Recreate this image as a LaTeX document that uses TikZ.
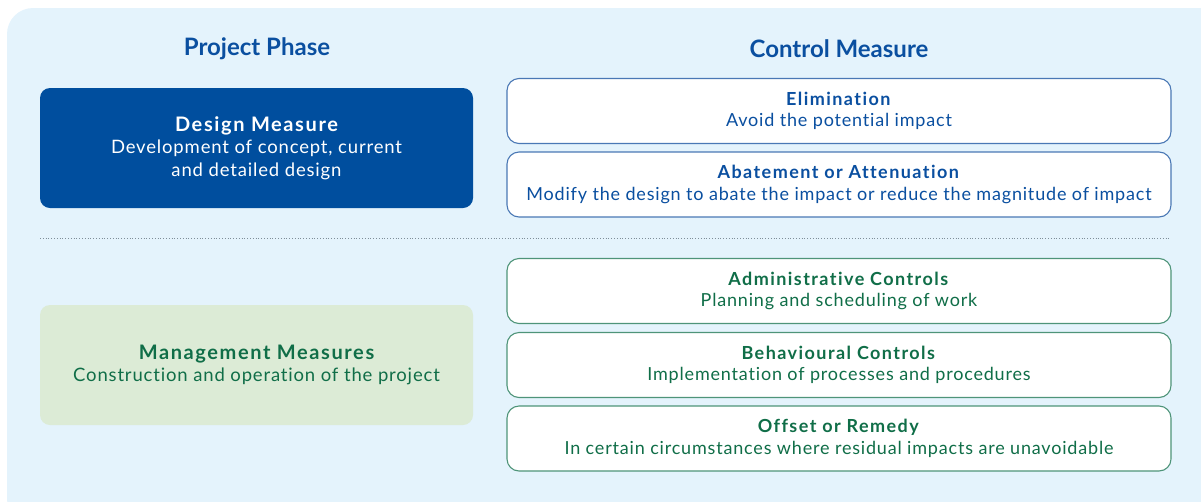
\documentclass[tikz,border=0pt]{standalone}
\usepackage{fontspec}
\setmainfont{Lato}
\newfontfamily\boxfont{Lato}[LetterSpace=4.5, Ligatures=NoCommon, BoldFeatures={LetterSpace=8, Ligatures=NoCommon}]
\usepackage{tikz}
\usetikzlibrary{positioning}
\definecolor{panelbg}{HTML}{E4F3FC}
\definecolor{phaseblue}{HTML}{0A4FA0}
\definecolor{designfill}{HTML}{004E9E}
\definecolor{blueline}{HTML}{4A78B5}
\definecolor{mgmtgreen}{HTML}{106E48}
\definecolor{mgmtfill}{HTML}{DCEBD6}
\definecolor{greenline}{HTML}{4E9479}
\definecolor{rulegray}{HTML}{7F8E99}

\begin{document}
\begin{tikzpicture}[x=1pt, y=-1pt]
\tikzstyle{heading}=[text=phaseblue, font=\fontsize{24}{28}\selectfont\bfseries]
\tikzstyle{phase}=[rectangle, rounded corners=10pt, minimum width=433pt, minimum height=120pt, align=center, inner sep=0pt, font=\boxfont\fontsize{18.5}{22.5}\selectfont, execute at begin node=\rule{0pt}{19pt}]
\tikzstyle{control}=[rectangle, rounded corners=12pt, fill=white, line width=1.1pt, minimum width=664pt, minimum height=65pt, align=center, inner sep=0pt, font=\boxfont\fontsize{18}{21.5}\selectfont, execute at begin node=\rule{0pt}{19.5pt}]
\useasboundingbox (0,0) rectangle (1201,501);
\fill[panelbg, rounded corners=26pt] (7,8) rectangle (1226,525);
% headings
\node[heading] (phasehead) at (257,49) {Project Phase};
\node[heading] (controlhead) at (839,49) {Control Measure};
% project phases
\node[phase, fill=designfill, text=white] (design) at (256.5,148)
  {{\fontsize{20}{23}\selectfont\bfseries Design Measure}\\Development of concept, current\\and detailed design};
\node[phase, fill=mgmtfill, text=mgmtgreen] (mgmt) at (256.5,365)
  {{\fontsize{20}{23}\selectfont\bfseries Management Measures}\\Construction and operation of the project};
% control measures
\node[control, draw=blueline, text=phaseblue] (elim) at (839,111)
  {\textbf{Elimination}\\Avoid the potential impact};
\node[control, draw=blueline, text=phaseblue] (abate) at (839,184.5)
  {\textbf{Abatement or Attenuation}\\Modify the design to abate the impact or reduce the magnitude of impact};
\node[control, draw=greenline, text=mgmtgreen] (admin) at (839,291)
  {\textbf{Administrative Controls}\\Planning and scheduling of work};
\node[control, draw=greenline, text=mgmtgreen] (behav) at (839,365)
  {\textbf{Behavioural Controls}\\Implementation of processes and procedures};
\node[control, draw=greenline, text=mgmtgreen] (offset) at (839,438.5)
  {\textbf{Offset or Remedy}\\In certain circumstances where residual impacts are unavoidable};
% divider
\coordinate (divl) at (40,238);
\coordinate (divr) at (1171,238);
\draw[rulegray, dotted, line width=0.8pt] (divl) -- (divr);
\end{tikzpicture}
\end{document}
